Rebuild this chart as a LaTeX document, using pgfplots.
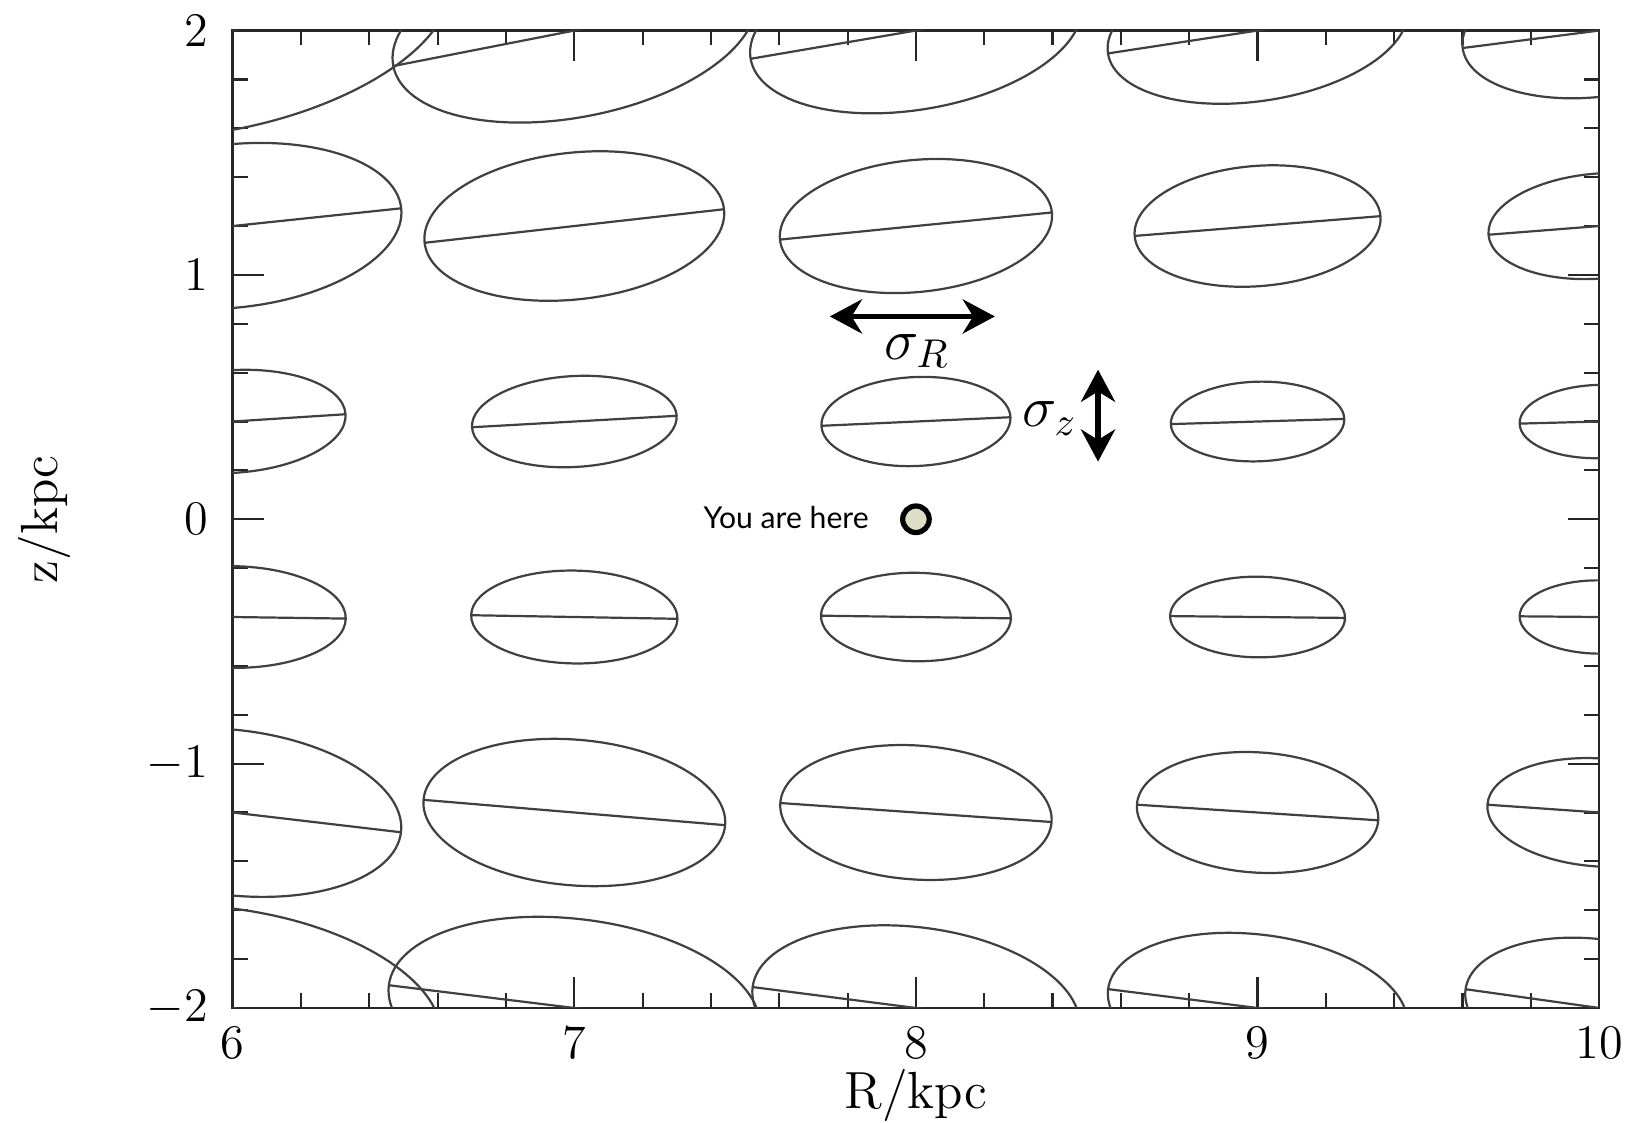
\documentclass[border=0pt]{standalone}
\usepackage{pgfplots}
\pgfplotsset{compat=1.18}
\usepackage{pgfplotstable}
\usepackage{fontspec}
\newfontfamily\gill{Lato}
\usetikzlibrary{arrows.meta}
\definecolor{beigedot}{RGB}{222,221,200}

% velocity ellipses: centre (R,z), semi-major a (kpc along R), semi-minor b (kpc along z), tilt t (deg)
\pgfplotstableread{
R  z    a     b     t
6  2    0.646 0.398 13
7  2    0.540 0.354 11.1
8  2    0.491 0.323 9.7
9  2    0.443 0.288 8.7
10 2    0.403 0.270 7.3
6  1.2  0.496 0.334 6.0
7  1.2  0.441 0.300 6.4
8  1.2  0.400 0.270 5.7
9  1.2  0.361 0.246 4.6
10 1.2  0.325 0.215 4.5
6  0.4  0.331 0.210 3.7
7  0.4  0.300 0.186 3.2
8  0.4  0.277 0.182 2.6
9  0.4  0.254 0.163 1.7
10 0.4  0.233 0.150 1.5
6  -0.4 0.331 0.208 -0.8
7  -0.4 0.302 0.190 -1.0
8  -0.4 0.278 0.181 -0.8
9  -0.4 0.256 0.165 -0.6
10 -0.4 0.233 0.150 -0.5
6  -1.2 0.496 0.338 -6.7
7  -1.2 0.443 0.298 -4.8
8  -1.2 0.398 0.274 -4.0
9  -1.2 0.354 0.246 -3.7
10 -1.2 0.328 0.221 -4.0
6  -2   0.615 0.403 -9
7  -2   0.547 0.364 -7
8  -2   0.482 0.330 -7.3
9  -2   0.441 0.300 -7.2
10 -2   0.395 0.280 -8
}\ellipses

% ellipse mark: semi-axes converted from kpc to pt with the axis units (85pt/kpc in R, 60.8pt/kpc in z)
\pgfdeclareplotmark{vellipse}{%
  \pgfscope
  \pgfmathsetmacro\ellAp{85*\ellA}%
  \pgfmathsetmacro\ellBp{60.8*\ellB}%
  \pgftransformrotate{\ellT}%
  \pgfpathellipse{\pgfpointorigin}{\pgfqpoint{\ellAp pt}{0pt}}{\pgfqpoint{0pt}{\ellBp pt}}%
  \pgfpathmoveto{\pgfqpoint{-\ellAp pt}{0pt}}%
  \pgfpathlineto{\pgfqpoint{\ellAp pt}{0pt}}%
  \pgfusepathqstroke
  \endpgfscope
}

\begin{document}
\begin{tikzpicture}
\begin{axis}[
  name=ax, at={(0,0)}, anchor=south west,
  x=85pt, y=60.8pt,
  xmin=6, xmax=10, ymin=-2, ymax=2,
  xtick={6,7,8,9,10}, ytick={-2,-1,0,1,2},
  minor x tick num=4, minor y tick num=4,
  tick align=inside, tick pos=both,
  major tick length=7.7pt, minor tick length=3.7pt,
  axis line style={line width=0.6pt, black!85},
  every tick/.style={line width=0.55pt, black!85},
  ticklabel style={font=\fontsize{13}{15}\selectfont},
  xticklabel style={yshift=-1.4pt},
  yticklabel style={xshift=-2.6pt},
  xlabel={R/kpc}, ylabel={z/kpc},
  label style={font=\fontsize{13}{15}\selectfont},
  xlabel style={at={([yshift=-25pt]rel axis cs:0.5,0)}, anchor=base},
  ylabel style={at={([xshift=-43.5pt]rel axis cs:0,0.5)}, anchor=base},
  clip marker paths=true,
]
\pgfplotstablegetrowsof{\ellipses}
\pgfmathtruncatemacro\nlast{\pgfplotsretval-1}
\pgfplotsforeachungrouped \i in {0,...,\nlast}{%
  \pgfplotstablegetelem{\i}{R}\of\ellipses \let\cR\pgfplotsretval
  \pgfplotstablegetelem{\i}{z}\of\ellipses \let\cZ\pgfplotsretval
  \pgfplotstablegetelem{\i}{a}\of\ellipses \let\cA\pgfplotsretval
  \pgfplotstablegetelem{\i}{b}\of\ellipses \let\cB\pgfplotsretval
  \pgfplotstablegetelem{\i}{t}\of\ellipses \let\cT\pgfplotsretval
  \edef\doplot{\noexpand\addplot[only marks, mark=vellipse,
    mark options={/utils/exec={\noexpand\def\noexpand\ellA{\cA}\noexpand\def\noexpand\ellB{\cB}\noexpand\def\noexpand\ellT{\cT}},
      line width=0.55pt, draw=black!75}]
    coordinates {(\cR,\cZ)};}%
  \doplot
}

\addplot[line width=1.3pt, {Stealth[length=8pt,width=8.5pt]}-{Stealth[length=8pt,width=8.5pt]}]
  coordinates {(7.748,0.830) (8.231,0.830)};
\addplot[line width=1.3pt, {Stealth[length=8pt,width=8.5pt]}-{Stealth[length=8pt,width=8.5pt]}]
  coordinates {(8.533,0.612) (8.533,0.236)};

\addplot[only marks, mark=*, mark size=3.3pt,
  mark options={fill=beigedot, draw=black, line width=1.3pt}]
  coordinates {(8,0)};

\node[anchor=base west, inner sep=0pt, font=\gill\fontsize{7.5}{9}\selectfont]
  at (axis cs:7.376,-0.036) {You are here};
\node[anchor=base west, inner sep=0pt, font=\fontsize{14}{16}\selectfont]
  at (axis cs:7.905,0.655) {$\sigma_R$};
\node[anchor=base west, inner sep=0pt, font=\fontsize{14}{16}\selectfont]
  at (axis cs:8.309,0.380) {$\sigma_z$};
\end{axis}
\pgfresetboundingbox
\path[use as bounding box] ([shift={(-57.9pt,-28.4pt)}]ax.south west) rectangle ([shift={(10.4pt,7.6pt)}]ax.north east);
\end{tikzpicture}
\end{document}
